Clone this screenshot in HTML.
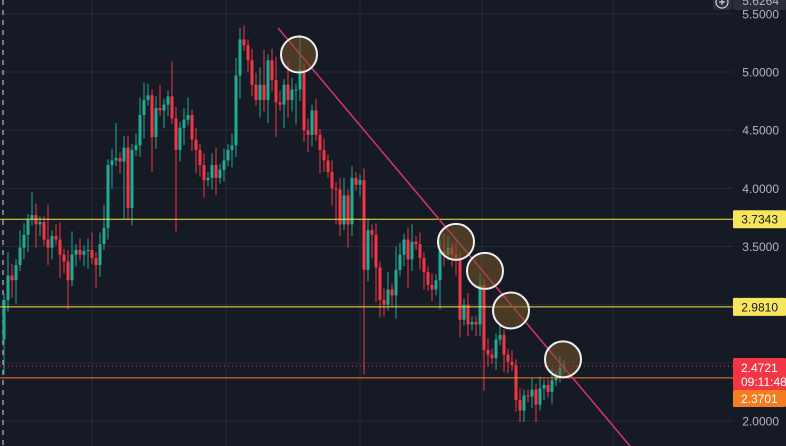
<!DOCTYPE html>
<html><head><meta charset="utf-8"><style>
body{margin:0;background:#161a25;overflow:hidden}
svg{display:block;font-family:"Liberation Sans",sans-serif}
</style></head><body>
<svg id="chart" width="786" height="446" viewBox="0 0 786 446">
<rect width="786" height="446" fill="#161a25"/>
<g id="grid"></g>
<g id="candles"></g>
<g id="overlay"></g>
<g id="axis"></g>
</svg>
<script>
const closes=[3.04,3.25,3.21,3.34,3.49,3.60,3.73,3.77,3.69,3.71,3.56,3.49,3.59,3.56,3.43,3.37,3.21,3.43,3.47,3.43,3.46,3.47,3.40,3.34,3.52,3.66,4.20,4.24,4.26,4.23,4.35,3.83,4.33,4.37,4.63,4.76,4.80,4.44,4.69,4.67,4.72,4.79,4.60,4.33,4.52,4.59,4.63,4.42,4.33,4.20,4.07,4.09,4.20,4.09,4.16,4.24,4.33,4.37,4.97,5.28,5.23,5.10,4.89,4.76,4.89,4.76,5.10,4.93,4.74,4.72,4.89,4.76,4.85,4.85,5.02,4.50,4.46,4.67,4.46,4.33,4.24,4.14,4.00,3.99,3.69,3.94,3.69,4.09,4.03,4.07,3.30,3.64,3.60,3.32,3.04,3.00,3.13,3.08,3.30,3.43,3.56,3.39,3.54,3.52,3.40,3.28,3.17,3.13,3.21,3.46,3.43,3.49,3.43,3.40,2.87,3.00,2.83,2.85,2.83,3.17,2.61,2.57,2.54,2.70,2.74,2.57,2.51,2.48,2.18,2.09,2.22,2.21,2.27,2.14,2.28,2.31,2.25,2.35,2.38,2.46,2.47];
const firstOpen=2.70;
const upWicks=[0.05,0.2,0.1,0.05,0.15,0.1,0.05,0.2,0.1,0.05,0.05,0.3,0.05,0.1,0.15,0.05,0.1,0.2,0.05,0.1,0.05,0.1,0.15,0.05,0.1,0.2,0.05,0.1,0.3,0.05,0.1,0.1,0.05,0.1,0.15,0.15,0.1,0.05,0.1,0.2,0.05,0.05,0.3,0.1,0.05,0.1,0.15,0.05,0.1,0.05,0.1,0.05,0.1,0.15,0.05,0.1,0.05,0.1,0.15,0.1,0.12,0.05,0.1,0.1,0.15,0.3,0.05,0.1,0.2,0.1,0.05,0.2,0.1,0.05,0.3,0.05,0.1,0.05,0.1,0.05,0.1,0.05,0.1,0.05,0.1,0.15,0.05,0.1,0.05,0.05,0.1,0.1,0.05,0.1,0.05,0.1,0.15,0.05,0.2,0.1,0.05,0.1,0.15,0.05,0.1,0.05,0.05,0.1,0.05,0.1,0.15,0.1,0.05,0.1,0.05,0.05,0.1,0.05,0.05,0.1,0.05,0.1,0.05,0.05,0.1,0.05,0.05,0.1,0.05,0.1,0.05,0.05,0.1,0.05,0.1,0.05,0.05,0.1,0.05,0.1,0.05];
const downWicks=[0.3,0.1,0.15,0.2,0.05,0.1,0.15,0.05,0.2,0.1,0.05,0.15,0.1,0.05,0.2,0.1,0.25,0.05,0.1,0.05,0.1,0.15,0.05,0.2,0.1,0.05,0.1,0.2,0.05,0.1,0.5,0.1,0.15,0.05,0.1,0.2,0.05,0.3,0.1,0.05,0.15,0.1,0.05,0.7,0.1,0.15,0.05,0.1,0.2,0.1,0.15,0.05,0.1,0.15,0.05,0.1,0.05,0.15,0.1,0.2,0.05,0.1,0.1,0.05,0.15,0.1,0.2,0.1,0.3,0.05,0.2,0.15,0.1,0.3,0.1,0.1,0.15,0.1,0.05,0.2,0.1,0.05,0.15,0.3,0.1,0.05,0.2,0.1,0.05,0.1,0.9,0.1,0.2,0.3,0.15,0.1,0.05,0.1,0.2,0.05,0.1,0.25,0.1,0.05,0.1,0.15,0.05,0.1,0.05,0.25,0.1,0.05,0.1,0.15,0.15,0.05,0.1,0.05,0.1,0.1,0.35,0.1,0.05,0.1,0.05,0.15,0.1,0.05,0.1,0.1,0.1,0.05,0.1,0.15,0.05,0.1,0.05,0.1,0.05,0.05,0.05];
const tickValues=[5.5,5.0,4.5,4.0,3.5,2.0];
const tickLabels=["5.5000","5.0000","4.5000","4.0000","3.5000","2.0000"];
const levelValues=[3.7343,2.9810];
const levelLabels=["3.7343","2.9810"];
const lastPrice=2.4721, lastLabel="2.4721", timer="09:11:48";
const supportPrice=2.3701, supportLabel="2.3701";
const vGrid=[92,226,360,482,613];
const circleIdx=[73.75,113,120.25,126.75,139.75];
const circlePrice=[5.15,3.54,3.29,2.95,2.53];

const NS="http://www.w3.org/2000/svg";
const yS=p=>72+(5-p)*116.33;
const xS=i=>4+4*i;
function mk(tag,attrs,parent){const e=document.createElementNS(NS,tag);for(const k in attrs)e.setAttribute(k,attrs[k]);parent.appendChild(e);return e;}
const grid=document.getElementById('grid'),cg=document.getElementById('candles'),ov=document.getElementById('overlay'),ax=document.getElementById('axis');

for(const gx of vGrid){const l=mk('line',{x1:gx,x2:gx,y1:0,y2:446,stroke:'#252a37','stroke-width':1},grid);

}
[5.5,5,4.5,4,3.5,3,2.5,2].forEach(v=>{const l=mk('line',{x1:0,x2:733,y1:yS(v),y2:yS(v),stroke:'#252a37','stroke-width':1},grid);

});
const dl=mk('line',{x1:3,x2:3,y1:0,y2:446,stroke:'#9598a1','stroke-width':1.5,'stroke-dasharray':'5 5'},grid);



closes.forEach((c,i)=>{
  const o=i===0?firstOpen:closes[i-1];
  const hi=Math.max(o,c)+upWicks[i], lo=Math.min(o,c)-downWicks[i];
  const col=c>=o?'#22ab94':'#f23645';
  const g=mk('g',{},cg);
  
  
  mk('line',{x1:xS(i),x2:xS(i),y1:yS(hi),y2:yS(lo),stroke:col,'stroke-width':1},g);
  const t=Math.min(yS(o),yS(c)),h=Math.max(1,Math.abs(yS(o)-yS(c)));
  mk('rect',{x:xS(i)-1.5,y:t,width:3,height:h,fill:col},g);
});

levelValues.forEach(v=>{const l=mk('line',{x1:0,x2:733,y1:yS(v),y2:yS(v),stroke:'#f7e34a','stroke-width':1},ov);

});
const sl=mk('line',{x1:0,x2:733,y1:yS(supportPrice),y2:yS(supportPrice),stroke:'#f57c1f','stroke-width':1},ov);


const lp=mk('line',{x1:0,x2:733,y1:yS(lastPrice),y2:yS(lastPrice),stroke:'#f23645','stroke-width':1,'stroke-dasharray':'1 3'},ov);


const tl=mk('line',{x1:278,y1:28,x2:630,y2:446,stroke:'#d9336b','stroke-width':1.5},ov);


circleIdx.forEach((i,k)=>{
  const ci=mk('circle',{cx:xS(i),cy:yS(circlePrice[k]),r:18,fill:'rgba(120,85,40,0.55)',stroke:'#f0f0f0','stroke-width':2},ov);
  
  
});

tickValues.forEach((v,k)=>{const t=mk('text',{x:779,y:yS(v)+4.5,'text-anchor':'end',fill:'#b2b5be','font-size':12},ax);t.textContent=tickLabels[k];

});
function box(y,h,fill,name){const r=mk('rect',{x:733,y:y,width:53,height:h,fill:fill,rx:1},ax);

}
levelValues.forEach((v,k)=>{box(yS(v)-9,18,'#f7e55b','level-price-badge');
const t=mk('text',{x:778,y:yS(v)+4.5,'text-anchor':'end',fill:'#131722','font-size':12},ax);t.textContent=levelLabels[k];

});
box(358,32,'#f23645','last-price-badge');
let t=mk('text',{x:741,y:372,fill:'#fff','font-size':12},ax);t.textContent=lastLabel;


t=mk('text',{x:741,y:386,fill:'#fff','font-size':12},ax);t.textContent=timer;


box(390,17,'#f57c1f','support-price-badge');
t=mk('text',{x:741,y:403,fill:'#fff','font-size':12},ax);t.textContent=supportLabel;


box(-8,18,'#2a2e39','top-price-badge');
t=mk('text',{x:779,y:5,'text-anchor':'end',fill:'#b2b5be','font-size':12},ax);t.textContent="5.6264";


const pb=mk('rect',{x:713,y:-8,width:19,height:18,fill:'#2a2e39',rx:2},ax);


const pc=mk('circle',{cx:722,cy:2,r:6,fill:'none',stroke:'#d1d4dc','stroke-width':1.2},ax);


const pp=mk('path',{d:'M719 2H725M722 -1V5',stroke:'#d1d4dc','stroke-width':1.2},ax);


</script>
</body></html>
